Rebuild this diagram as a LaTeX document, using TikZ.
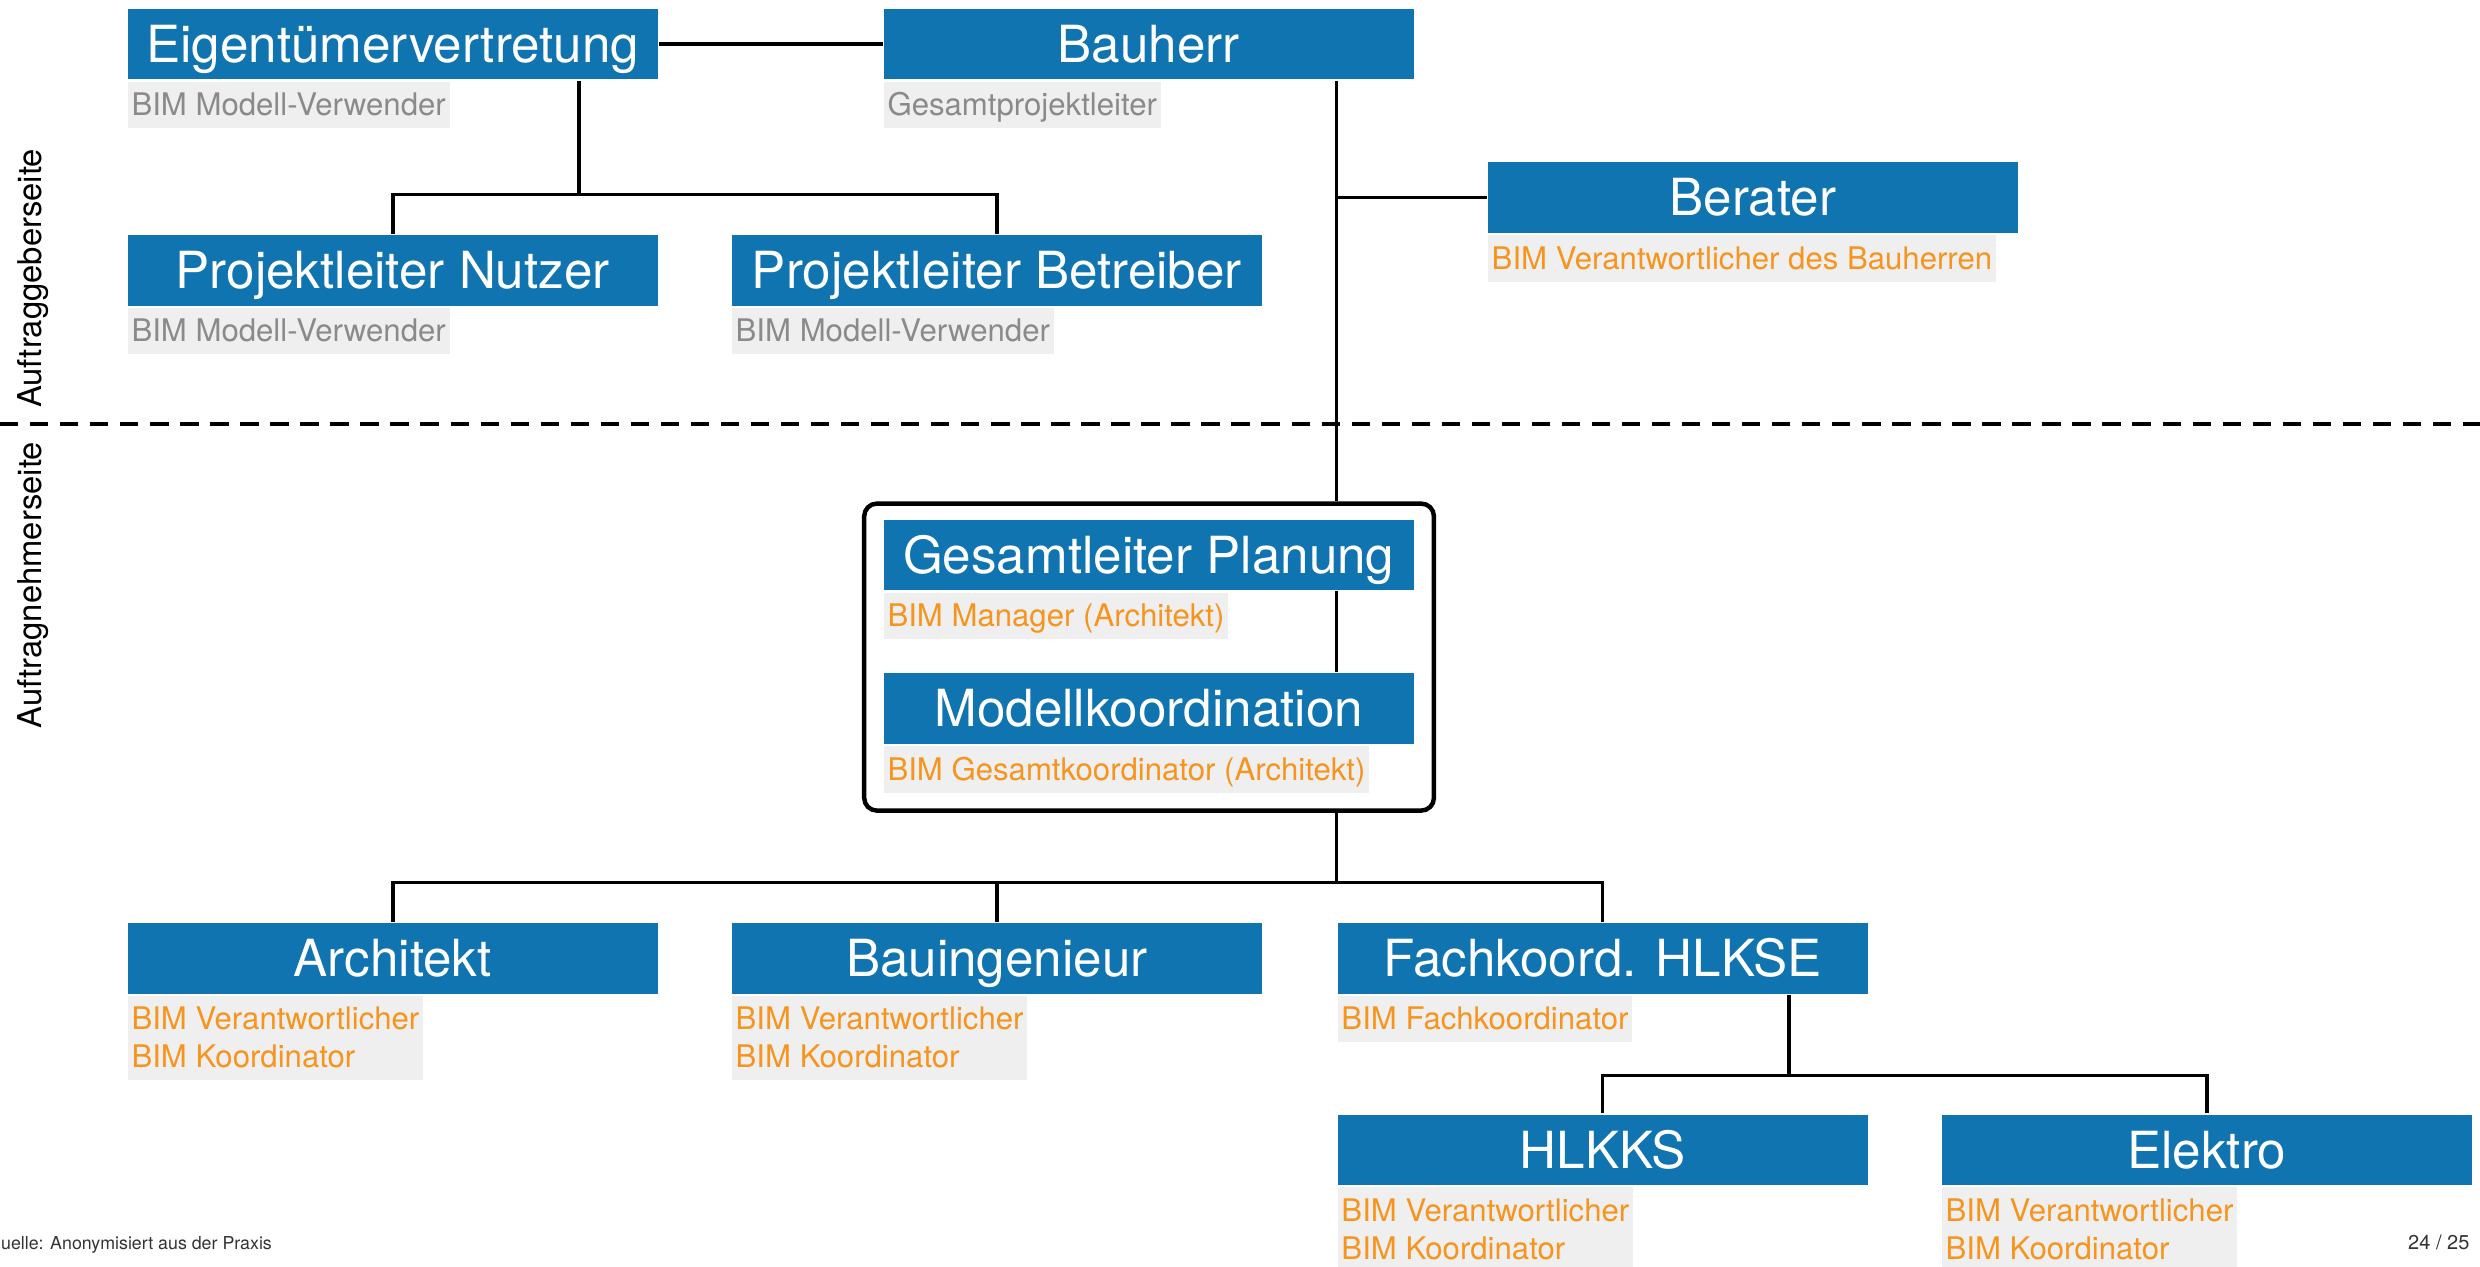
\documentclass[tikz,border=0pt]{standalone}
\usepackage{fontspec}
\setmainfont{TeX Gyre Heros}
\usepackage{xcolor}
\usetikzlibrary{positioning}

\definecolor{rollenblau}{RGB}{15,116,176}
\definecolor{bimorange}{RGB}{247,148,29}
\definecolor{bimgrau}{RGB}{138,138,138}
\definecolor{hintergrau}{RGB}{239,239,239}

\begin{document}
\begin{tikzpicture}[x=0.01cm, y=-0.01cm]
		
		\tikzset{
			rolle/.style={fill=rollenblau, text=white, anchor=north west, inner sep=0pt,
				minimum width=3.35cm, minimum height=0.445cm,
				font=\fontsize{9.2pt}{11pt}\selectfont, text height=6.6pt, text depth=0pt},
			bim/.style={fill=hintergrau, text=bimorange, anchor=north west, align=left,
				inner xsep=0.7pt, inner ysep=1.14pt,
				font=\fontsize{5.6pt}{6.83pt}\selectfont, text height=5.0pt, text depth=1.1pt},
			bimgrau/.style={bim, text=bimgrau},
			zweizeilig/.style={text height=11.83pt, text depth=1.1pt},
			rahmen/.style={draw, line width=0.8pt, rounded corners=0.08cm, anchor=north west,
				inner sep=0pt, minimum width=3.6cm, minimum height=1.94cm},
			linie/.style={line width=0.65pt},
			trennlinie/.style={line width=0.8pt, dash pattern=on 3.3pt off 2.1pt},
			seite/.style={rotate=90, anchor=base, font=\fontsize{5.9pt}{7pt}\selectfont},
			fuss/.style={text=black!80, font=\fontsize{3.2pt}{4pt}\selectfont, inner sep=0pt},
		}
		
		\useasboundingbox (0,0) rectangle (1568,800.5);
		
		\draw [trennlinie] (0,268) -- (1568,268);
		
		\node [seite] (geber) at (26.5,176) {Auftraggeberseite};
		\node [seite] (nehmer) at (26.5,370) {Auftragnehmerseite};
		
		\node [rolle] (eig) at (80,5) {Eigentümervertretung};
		\node [bimgrau] (eigbim) at (eig.south west) {BIM Modell-Verwender};
		
		\node [rolle] (bauherr) at (558,5) {Bauherr};
		\node [bimgrau] (bauherrbim) at (bauherr.south west) {Gesamtprojektleiter};
		
		\node [rolle] (pn) at (80,148) {Projektleiter Nutzer};
		\node [bimgrau] (pnbim) at (pn.south west) {BIM Modell-Verwender};
		
		\node [rolle] (pb) at (462,148) {Projektleiter Betreiber};
		\node [bimgrau] (pbbim) at (pb.south west) {BIM Modell-Verwender};
		
		\node [rolle] (berater) at (940,102) {Berater};
		\node [bim] (beraterbim) at (berater.south west) {BIM Verantwortlicher des Bauherren};
		
		\node [rahmen] (planung) at (545,317) {};
		
		\node [rolle] (gp) at (558,328) {Gesamtleiter Planung};
		\node [bim] (gpbim) at (gp.south west) {BIM Manager (Architekt)};
		
		\node [rolle] (mk) at (558,425) {Modellkoordination};
		\node [bim] (mkbim) at (mk.south west) {BIM Gesamtkoordinator (Architekt)};
		
		\node [rolle] (arch) at (80,583) {Architekt};
		\node [bim, zweizeilig] (archbim) at (arch.south west) {BIM Verantwortlicher\\BIM Koordinator};
		
		\node [rolle] (bauing) at (462,583) {Bauingenieur};
		\node [bim, zweizeilig] (bauingbim) at (bauing.south west) {BIM Verantwortlicher\\BIM Koordinator};
		
		\node [rolle] (fk) at (845,583) {Fachkoord. HLKSE};
		\node [bim] (fkbim) at (fk.south west) {BIM Fachkoordinator};
		
		\node [rolle] (hlkks) at (845,704) {HLKKS};
		\node [bim, zweizeilig] (hlkksbim) at (hlkks.south west) {BIM Verantwortlicher\\BIM Koordinator};
		
		\node [rolle] (elektro) at (1227,704) {Elektro};
		\node [bim, zweizeilig] (elektrobim) at (elektro.south west) {BIM Verantwortlicher\\BIM Koordinator};
		
		\coordinate (j1) at (366,123);
		\coordinate (achse) at (845,124);
		\coordinate (j2) at (845,558);
		\coordinate (j3) at (1131,680);
		
		\draw [linie] (eig.east) -- (bauherr.west);
		\draw [linie] (eig.south -| j1) -- (j1);
		\draw [linie] (pn.north) |- (j1) -| (pb.north);
		
		\draw [linie] (bauherr.south -| achse) -- (planung.north -| achse);
		\draw [linie] (berater.west -| achse) -- (berater.west);
		\draw [linie] (gp.south -| achse) -- (mk.north -| achse);
		
		\draw [linie] (planung.south -| j2) -- (j2);
		\draw [linie] (arch.north) |- (j2) -| (fk.north);
		\draw [linie] (bauing.north) -- (bauing.north |- j2);
		
		\draw [linie] (fk.south -| j3) -- (j3);
		\draw [linie] (hlkks.north) |- (j3) -| (elektro.north);
		
		\node [fuss, anchor=base west] (quelle) at (0,790) {uelle: Anonymisiert aus der Praxis};
		\node [fuss, anchor=base east, font=\fontsize{3.6pt}{4.5pt}\selectfont] (seitenzahl) at (1562,790) {24 / 25};
		
\end{tikzpicture}
\end{document}
